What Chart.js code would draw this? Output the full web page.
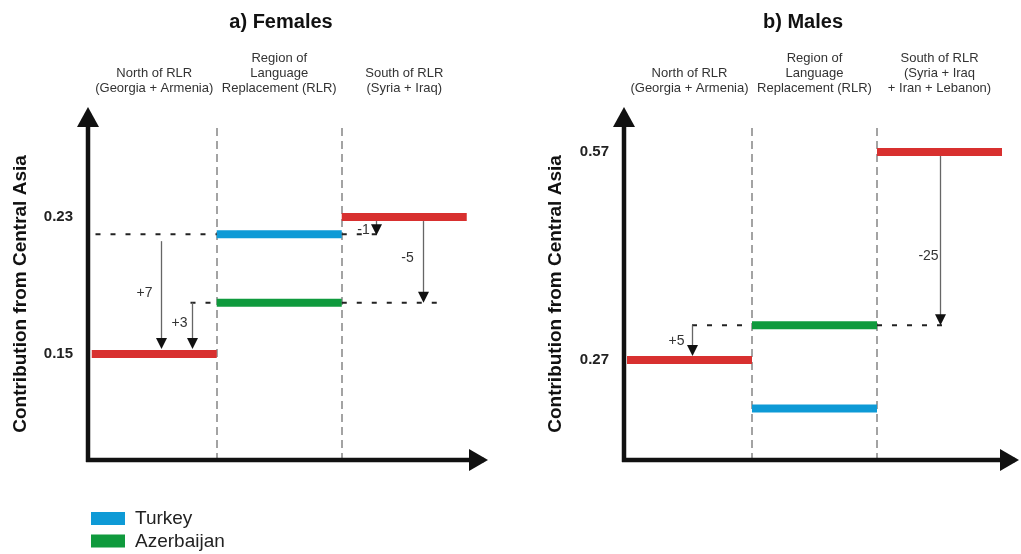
<!DOCTYPE html>
<html>
<head>
<meta charset="utf-8">
<script src="https://cdn.jsdelivr.net/npm/chart.js@4.4.1/dist/chart.umd.min.js"></script>
<style>
  html, body { margin: 0; padding: 0; background: #fff; overflow: hidden; width: 1021px; height: 554px; }
  .panel { position: absolute; top: 0; height: 554px; }
  #wrapA { left: 0; width: 562px; }
  #wrapB { left: 540px; width: 526px; }
</style>
</head>
<body>
<div class="panel" id="wrapA"><canvas id="females" width="562" height="554"></canvas></div>
<div class="panel" id="wrapB"><canvas id="males" width="526" height="554"></canvas></div>
<script>
// Regions (x categories)
const femaleRegions = [
  ["North of RLR", "(Georgia + Armenia)"],
  ["Region of", "Language", "Replacement (RLR)"],
  ["South of RLR", "(Syria + Iraq)"]
];
const maleRegions = [
  ["North of RLR", "(Georgia + Armenia)"],
  ["Region of", "Language", "Replacement (RLR)"],
  ["South of RLR", "(Syria + Iraq", "+ Iran + Lebanon)"]
];

// Contribution from Central Asia, one value per region (null = none)
const femaleNeighbours = [0.15, null, 0.23];
const femaleTurkey = [null, 0.22, null];
const femaleAzerbaijan = [null, 0.18, null];

const maleNeighbours = [0.27, null, 0.57];
const maleTurkey = [null, 0.20, null];
const maleAzerbaijan = [null, 0.32, null];

// Tick labels shown on the y axes
const femaleTicks = [0.15, 0.23];
const maleTicks = [0.27, 0.57];

// Differences (in %) written next to the arrows
const femaleChanges = ["+7", "+3", "-1", "-5"];
const maleChanges = ["+5", "-25"];

const RED = "#d8302f";
const BLUE = "#0e9ad6";
const GREEN = "#0f9a3d";
const FONT = "'Liberation Sans', Arial, Helvetica, sans-serif";

Chart.defaults.font.family = FONT;
Chart.defaults.color = "#333";

// one thick horizontal segment per region that has a value
function segments(values, label, color, inLegend) {
  const out = [];
  values.forEach((v, i) => {
    if (v === null) return;
    out.push({
      label: label,
      data: [{ x: i, y: v }, { x: i + 1, y: v }],
      borderColor: color,
      backgroundColor: color,
      borderWidth: 8,
      borderCapStyle: "butt",
      pointRadius: 0,
      inLegend: inLegend
    });
  });
  return out;
}

// dotted guide line at a given level
function guide(level, from, to) {
  return {
    label: "guide",
    data: [{ x: from, y: level }, { x: to, y: level }],
    borderColor: "#222",
    borderWidth: 2,
    borderDash: [5, 10],
    borderCapStyle: "butt",
    pointRadius: 0,
    inLegend: false
  };
}

// thick black axes with arrow heads
const axisArrows = {
  id: "axisArrows",
  afterDatasetsDraw(chart, args, opts) {
    const { ctx, chartArea } = chart;
    const left = chartArea.left, top = chartArea.top, bottom = chartArea.bottom;
    const xEnd = chart.scales.x.getPixelForValue(opts.xEnd);
    ctx.save();
    ctx.strokeStyle = "#111";
    ctx.fillStyle = "#111";
    ctx.lineWidth = 4.5;
    ctx.beginPath();
    ctx.moveTo(left, bottom + 2);
    ctx.lineTo(left, top - 4);
    ctx.moveTo(left - 2, bottom);
    ctx.lineTo(xEnd - 4, bottom);
    ctx.stroke();
    ctx.beginPath();
    ctx.moveTo(left - 11, top - 1);
    ctx.lineTo(left + 11, top - 1);
    ctx.lineTo(left, top - 21);
    ctx.closePath();
    ctx.fill();
    ctx.beginPath();
    ctx.moveTo(xEnd - 19, bottom - 11);
    ctx.lineTo(xEnd - 19, bottom + 11);
    ctx.lineTo(xEnd, bottom);
    ctx.closePath();
    ctx.fill();
    ctx.restore();
  }
};

// thin vertical arrows with the % change labels
const changeArrows = {
  id: "changeArrows",
  afterDatasetsDraw(chart, args, opts) {
    const { ctx } = chart;
    const xs = chart.scales.x, ys = chart.scales.y;
    ctx.save();
    opts.items.forEach(a => {
      const px = Math.round(xs.getPixelForValue(a.x)) + 0.5;
      const p0 = ys.getPixelForValue(a.from);
      const p1 = ys.getPixelForValue(a.to);
      const y0 = p0 + a.gap0;
      const tip = p1 - a.gap1;
      ctx.strokeStyle = "#666";
      ctx.lineWidth = 1.3;
      ctx.beginPath();
      ctx.moveTo(px, y0);
      ctx.lineTo(px, tip - 8);
      ctx.stroke();
      ctx.fillStyle = "#111";
      ctx.beginPath();
      ctx.moveTo(px - 5.5, tip - 11);
      ctx.lineTo(px + 5.5, tip - 11);
      ctx.lineTo(px, tip);
      ctx.closePath();
      ctx.fill();
      ctx.fillStyle = "#333";
      ctx.font = "14px " + FONT;
      ctx.textAlign = "center";
      ctx.textBaseline = "middle";
      ctx.fillText(a.text, px + a.dx, p0 + a.t * (p1 - p0));
    });
    ctx.restore();
  }
};

// stacked legend under the plot
const legendBlock = {
  id: "legendBlock",
  afterDraw(chart, args, opts) {
    if (!opts.show) return;
    const ctx = chart.ctx;
    const items = chart.data.datasets.filter(d => d.inLegend);
    const left = chart.chartArea.left + 3;
    ctx.save();
    ctx.font = "19px " + FONT;
    ctx.textBaseline = "middle";
    ctx.textAlign = "left";
    items.forEach((d, i) => {
      const y = opts.top + i * opts.rowHeight;
      ctx.fillStyle = d.borderColor;
      ctx.fillRect(left, y, 34, 13);
      ctx.fillStyle = "#222";
      ctx.fillText(d.label, left + 44, y + 7);
    });
    ctx.restore();
  }
};

function makeChart(id, p) {
  return new Chart(document.getElementById(id), {
    type: "line",
    data: { datasets: p.datasets },
    plugins: [axisArrows, changeArrows, legendBlock],
    options: {
      responsive: false,
      animation: false,
      events: [],
      layout: { padding: 0 },
      scales: {
        x: {
          type: "linear",
          position: "bottom",
          min: p.xMin,
          max: p.xMax,
          afterBuildTicks: s => { s.ticks = [{ value: 1 }, { value: 2 }]; },
          afterFit: s => { s.height = 554 - 460; },
          ticks: { display: false },
          grid: { color: "#a3a3a3", lineWidth: 2, drawTicks: false },
          border: { display: false, dash: [8, 5] }
        },
        top: {
          type: "linear",
          position: "top",
          min: p.xMin,
          max: p.xMax,
          afterBuildTicks: s => { s.ticks = [{ value: 0.5 }, { value: 1.5 }, { value: 2.5 }]; },
          afterFit: s => { s.height = 94; },
          ticks: {
            callback: (v, i) => p.regions[i],
            font: { size: 13, lineHeight: 1.15 },
            color: "#333",
            padding: 32,
            autoSkip: false,
            minRotation: 0,
            maxRotation: 0
          },
          grid: { display: false, drawTicks: false },
          border: { display: false }
        },
        y: {
          type: "linear",
          min: p.yMin,
          max: p.yMax,
          afterBuildTicks: s => { s.ticks = p.ticks.map(v => ({ value: v })); },
          afterFit: s => { s.width = p.yWidth; },
          ticks: {
            callback: v => v.toFixed(2),
            font: { size: 15, weight: "bold" },
            color: "#222",
            padding: 15
          },
          grid: { display: false, drawTicks: false },
          border: { display: false },
          title: {
            display: true,
            text: "Contribution from Central Asia",
            font: { size: 19, weight: "bold" },
            color: "#111",
            padding: { top: p.titlePad, bottom: 0 }
          }
        }
      },
      plugins: {
        legend: { display: false },
        tooltip: { enabled: false },
        title: {
          display: true,
          text: p.title,
          font: { size: 20, weight: "bold" },
          color: "#111",
          padding: { top: 10, bottom: 0 }
        },
        axisArrows: { xEnd: p.xEnd },
        changeArrows: { items: p.arrows },
        legendBlock: { show: p.legend, top: 512, rowHeight: 22.5 }
      }
    }
  });
}

makeChart("females", {
  title: "a) Females",
  regions: femaleRegions,
  ticks: femaleTicks,
  xMin: -0.03, xMax: 3.762, xEnd: 3.17,
  yMin: 0.0881, yMax: 0.282,
  yWidth: 88, titlePad: 9,
  legend: true,
  datasets: [
    guide(femaleTurkey[1], 0.03, 1),
    guide(femaleTurkey[1], 2, 2.3),
    guide(femaleAzerbaijan[1], 0.79, 1),
    guide(femaleAzerbaijan[1], 2, 2.8),
    ...segments(femaleTurkey, "Turkey", BLUE, true),
    ...segments(femaleAzerbaijan, "Azerbaijan", GREEN, true),
    ...segments(femaleNeighbours, "Neighbouring regions", RED, false)
  ],
  arrows: [
    { x: 0.55, from: femaleTurkey[1], to: femaleNeighbours[0], text: femaleChanges[0], gap0: 7, gap1: 5, t: 0.49, dx: -17 },
    { x: 0.8, from: femaleAzerbaijan[1], to: femaleNeighbours[0], text: femaleChanges[1], gap0: 0, gap1: 5, t: 0.4, dx: -13 },
    { x: 2.27, from: femaleNeighbours[2], to: femaleTurkey[1], text: femaleChanges[2], gap0: 4, gap1: -1, t: 0.75, dx: -13 },
    { x: 2.65, from: femaleNeighbours[2], to: femaleAzerbaijan[1], text: femaleChanges[3], gap0: 4, gap1: 0, t: 0.48, dx: -16 }
  ]
});

makeChart("males", {
  title: "b) Males",
  regions: maleRegions,
  ticks: maleTicks,
  xMin: -0.024, xMax: 3.512, xEnd: 3.136,
  yMin: 0.1258, yMax: 0.6046,
  yWidth: 84, titlePad: 4,
  legend: false,
  datasets: [
    guide(maleAzerbaijan[1], 0.52, 1),
    guide(maleAzerbaijan[1], 2, 2.52),
    ...segments(maleTurkey, "Turkey", BLUE, true),
    ...segments(maleAzerbaijan, "Azerbaijan", GREEN, true),
    ...segments(maleNeighbours, "Neighbouring regions", RED, false)
  ],
  arrows: [
    { x: 0.52, from: maleAzerbaijan[1], to: maleNeighbours[0], text: maleChanges[0], gap0: 0, gap1: 4, t: 0.45, dx: -16 },
    { x: 2.5, from: maleNeighbours[2], to: maleAzerbaijan[1], text: maleChanges[1], gap0: 4, gap1: 0, t: 0.6, dx: -12 }
  ]
});
</script>
</body>
</html>
